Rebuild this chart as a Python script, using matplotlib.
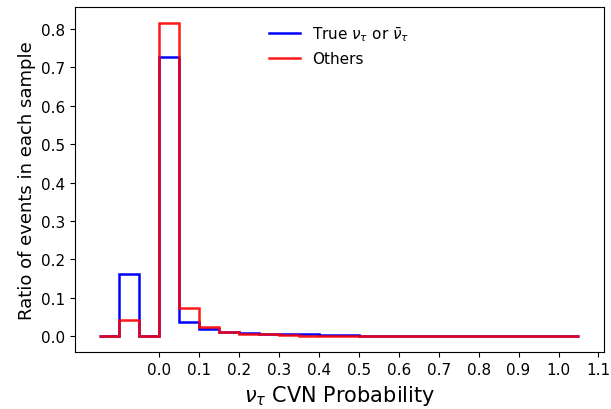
import numpy as np
import matplotlib.pyplot as plt

# bin edges of the CVN probability histogram (width 0.05, with an underflow bin below 0)
bin_edges = np.linspace(-0.15, 1.05, 25)

# fraction of events per bin
true_nutau = [0.0, 0.163, 0.0, 0.727, 0.036, 0.020, 0.012, 0.009, 0.007, 0.005,
              0.005, 0.004, 0.003, 0.0, 0.0, 0.0, 0.0, 0.0, 0.0, 0.0,
              0.0, 0.0, 0.0, 0.0]
others = [0.0, 0.042, 0.0, 0.815, 0.074, 0.025, 0.012, 0.007, 0.005, 0.003,
          0.002, 0.002, 0.001, 0.0, 0.0, 0.0, 0.0, 0.0, 0.0, 0.0,
          0.0, 0.0, 0.0, 0.0]

xticks = np.round(np.arange(0.0, 1.11, 0.1), 1)

fig, ax = plt.subplots(figsize=(6.11, 4.10), dpi=100)

# draw as step lines; stairs with baseline=None keeps the outer ends flat
ax.stairs(true_nutau, bin_edges, color='blue', linewidth=1.8, baseline=None,
          label=r'True $\nu_\tau$ or $\bar{\nu}_\tau$')
ax.stairs(others, bin_edges, color='red', linewidth=1.8, baseline=None, alpha=0.9,
          label='Others')

ax.set_xticks(xticks)
ax.set_ylim(-0.042, 0.857)
ax.set_xlim(-0.21, 1.113)

ax.set_xlabel(r'$\nu_\tau$ CVN Probability', fontsize=15)
ax.set_ylabel('Ratio of events in each sample', fontsize=13)
ax.tick_params(labelsize=11)

ax.legend(loc='upper center', bbox_to_anchor=(0.5, 0.99), frameon=False, fontsize=11)

fig.subplots_adjust(left=0.123, right=0.988, top=0.98, bottom=0.138)
fig.savefig('out.png', dpi=100)
